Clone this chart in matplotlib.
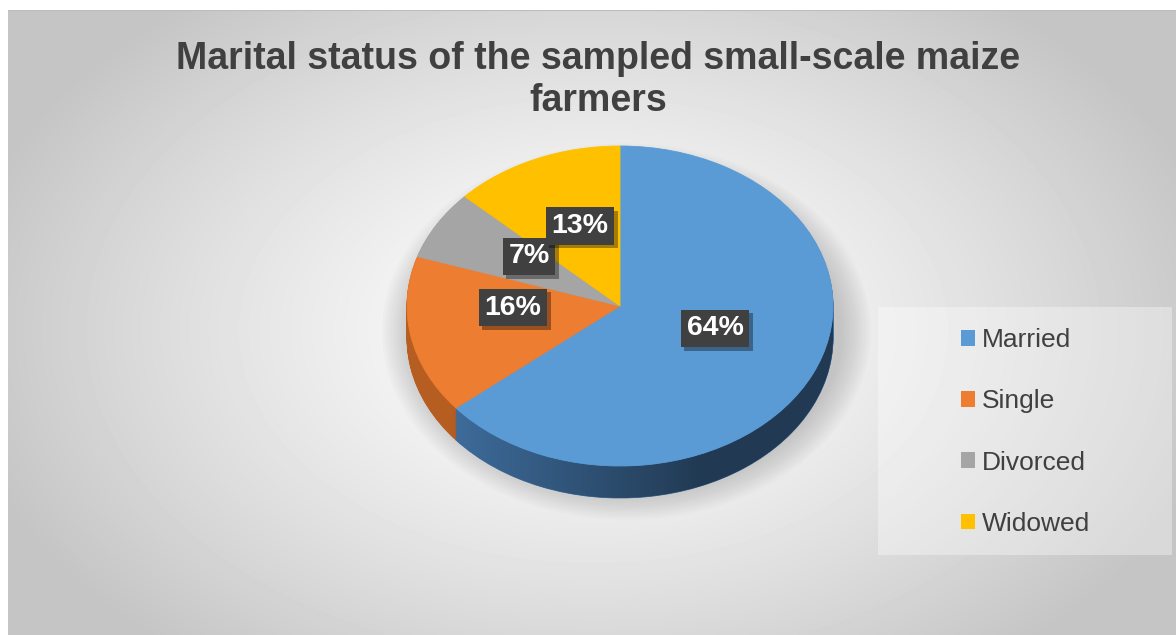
import matplotlib.pyplot as plt
import numpy as np
from matplotlib.patches import Patch, Polygon, Ellipse, Rectangle
import matplotlib.patheffects as pe

# data
categories = ["Married", "Single", "Divorced", "Widowed"]
shares = [64, 16, 7, 13]
top_colors = ["#5b9bd5", "#ed7d31", "#a5a5a5", "#ffc000"]
side_colors = ["#3e6c9b", "#b65d22", "#7c7c7c", "#bf9000"]

# label box positions in pie units (x: rx, y: ry)
label_pos = [(0.446, -0.14), (-0.502, -0.01), (-0.427, 0.31), (-0.188, 0.50)]

W, H = 1176, 635
fig = plt.figure(figsize=(W / 100, H / 100), dpi=100)
fig.patch.set_facecolor("white")

# radial gradient background of the chart area
bg = fig.add_axes([8 / W, 0, (W - 8) / W, (H - 10) / H])
yy, xx = np.mgrid[0:625, 0:1168]
r = np.sqrt(((xx - 585) / 640.0) ** 2 + ((yy - 320) / 420.0) ** 2)
shade = 255 - 58 * np.clip(r, 0, 1.0) ** 1.3
bg.imshow(shade, cmap="gray", vmin=0, vmax=255, aspect="auto", extent=[0, 1, 0, 1])
bg.axhline(1, color="#bdbdbd", lw=1.5)
bg.set_axis_off()

# pie axes: 1 unit = 213 px horizontally, 160 px vertically
cx, cy, rx, ry = 620, 306, 213, 160
ext = 1.5
ax = fig.add_axes([(cx - ext * rx) / W, (H - cy - ext * ry) / H,
                   2 * ext * rx / W, 2 * ext * ry / H])

# soft shadow
for k in range(12):
    ax.add_patch(Ellipse((0.03, -0.16), 2.02 + k * 0.025, 2.02 + k * 0.03,
                         facecolor="#808080", edgecolor="none", alpha=0.035, zorder=0))

depth = 32
for i in range(depth, 0, -1):
    w, _ = ax.pie(shares, colors=side_colors, startangle=90, counterclock=False,
                  center=(0, -i / ry), radius=1,
                  wedgeprops=dict(linewidth=0.6))
    for p, c in zip(w, side_colors):
        p.set_edgecolor(c)
        p.set_zorder(1)

# darkening gradient on the side
t = np.linspace(np.pi, 2 * np.pi, 200)
top_edge = np.column_stack([np.cos(t), np.sin(t)])
bot_edge = np.column_stack([np.cos(t[::-1]), np.sin(t[::-1]) - depth / ry])
side_poly = Polygon(np.vstack([top_edge, bot_edge]), closed=True,
                    facecolor="none", edgecolor="none", transform=ax.transData)
ax.add_patch(side_poly)
gx = np.linspace(-1, 1, 300)
alpha = np.clip((gx + 0.8) / 1.2, 0, 1) * 0.47
grad = np.zeros((2, 300, 4))
grad[..., 3] = alpha
im = ax.imshow(grad, extent=[-1, 1, -1.3, 0], aspect="auto", zorder=2)
im.set_clip_path(side_poly)

wedges, _ = ax.pie(shares, colors=top_colors, startangle=90, counterclock=False,
                   radius=1, wedgeprops=dict(linewidth=0.6))
for p, c in zip(wedges, top_colors):
    p.set_edgecolor(c)
    p.set_zorder(3)

for (lx, ly), v in zip(label_pos, shares):
    txt = ax.text(lx, ly, f"{v}%", fontsize=20.5, fontweight="bold", family="Liberation Sans",
                  color="white", ha="center", va="center", zorder=5,
                  bbox=dict(boxstyle="square,pad=0.2", facecolor="#404040", edgecolor="none"))
    txt.get_bbox_patch().set_path_effects(
        [pe.SimplePatchShadow(offset=(2.5, -2.5), shadow_rgbFace="black", alpha=0.35), pe.Normal()])

ax.set_aspect("auto")
ax.set_xlim(-ext, ext)
ax.set_ylim(-ext, ext)
ax.set_axis_off()

# title
fig.text(598 / W, 1 - 80 / H, "Marital status of the sampled small-scale maize\nfarmers",
         ha="center", va="center", fontsize=27, fontweight="bold",
         family="Liberation Sans", color="#404040", linespacing=1.2)

# legend box and entries
fig.patches.append(Rectangle((878 / W, 1 - 555 / H), 294 / W, 248 / H,
                             transform=fig.transFigure, facecolor="white",
                             alpha=0.35, edgecolor="none"))
handles = [Patch(facecolor=c, edgecolor="none") for c in top_colors]
leg = fig.legend(handles, categories, loc="center left",
                 bbox_to_anchor=(948 / W, 1 - 432 / H), frameon=False,
                 prop=dict(family="Liberation Sans", size=19), borderpad=0,
                 labelcolor="#404040", handlelength=0.53, handleheight=0.53,
                 handletextpad=0.27, labelspacing=1.41)

fig.savefig("out.png", dpi=100)
